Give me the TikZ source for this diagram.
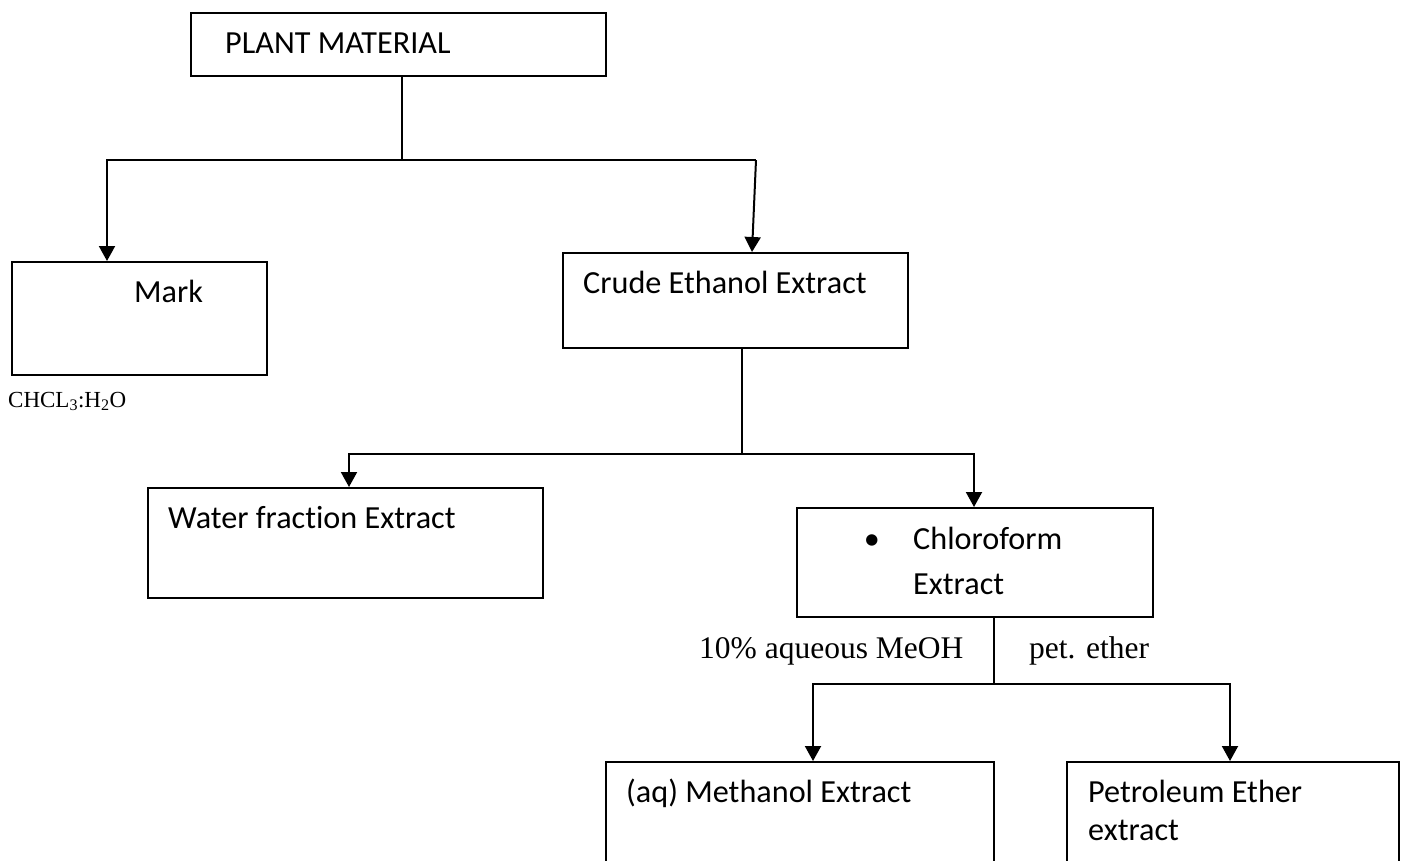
\documentclass[tikz,border=0pt]{standalone}
\usepackage{fontspec}
\setmainfont[Ligatures=NoCommon]{Carlito}
\newfontfamily\timesfont{Liberation Serif}
\usetikzlibrary{arrows.meta, positioning}

\begin{document}
\begin{tikzpicture}[x=1pt, y=-1pt, font=\fontsize{32.2}{38}\selectfont,
          box/.style={rectangle, draw=black, line width=1.6pt, anchor=north west, inner sep=0pt},
          txt/.style={anchor=base west, inner sep=0pt, align=left},
          solvent/.style={anchor=base west, inner sep=0pt, font=\timesfont\fontsize{31.5}{38}\selectfont},
          line/.style={line width=1.6pt},
          arrow/.style={line width=2pt, -{Triangle[width=16pt, length=15pt]}}]
        \useasboundingbox (0,0) rectangle (1403,860);

        % boxes
        \node [box, minimum width=415pt, minimum height=63pt] (plant) at (190,12) {};
        \node [box, minimum width=255pt, minimum height=113pt] (mark) at (11,261) {};
        \node [box, minimum width=345pt, minimum height=95pt] (crude) at (562,252) {};
        \node [box, minimum width=395pt, minimum height=110pt] (water) at (147,487) {};
        \node [box, minimum width=356pt, minimum height=109pt] (chloro) at (796,507) {};
        \node [box, minimum width=388pt, minimum height=130pt] (meth) at (605,761) {};
        \node [box, minimum width=332pt, minimum height=130pt] (petro) at (1066,761) {};

        % texts (multi-line ones sit on their last line)
        \node [txt] (plantT) at (225,53) {PLANT MATERIAL};
        \node [txt] (markT) at (134,302) {Mark};
        \node [txt] (crudeT) at (583,293) {Crude Ethanol Extract};
        \node [txt] (waterT) at (168,528) {Water fraction Extract};
        \node [anchor=base, inner sep=0pt] (bullet) at (872,549) {•};
        \node [txt] (chloroT) at (913,594) {Chloroform\\[7pt]Extract};
        \node [txt] (methT) at (626,802) {(aq) Methanol Extract};
        \node [txt] (petroT) at (1088,840) {Petroleum Ether\\extract};
        \node [solvent, font=\timesfont\fontsize{23}{28}\selectfont] (mix) at (8,407) {CHCL\textsubscript{3}:H\textsubscript{2}O};
        \node [solvent] (meoh) at (699,658) {10\% aqueous MeOH};
        \node [solvent] (pet) at (1029,658) {pet. ether};

        % connectors
        \coordinate (j1) at (402,160);
        \coordinate (j2) at (756,160);
        \coordinate (j3) at (742,454);
        \coordinate (j4) at (994,684);
        \draw [line] (plant.south -| j1) -- (j1);
        \draw [line] (j1) -- (j2);
        \draw [arrow] (j1) -| ([xshift=96pt]mark.north west);
        \draw [arrow] (j2) -- ([xshift=190pt]crude.north west);
        \draw [line] (crude.south -| j3) -- (j3);
        \draw [arrow] (j3) -| ([xshift=202pt]water.north west);
        \draw [arrow] (j3) -| ([xshift=178pt]chloro.north west);
        \draw [line] (chloro.south -| j4) -- (j4);
        \draw [arrow] (j4) -| ([xshift=208pt]meth.north west);
        \draw [arrow] (j4) -| ([xshift=164pt]petro.north west);
      \end{tikzpicture}
\end{document}
